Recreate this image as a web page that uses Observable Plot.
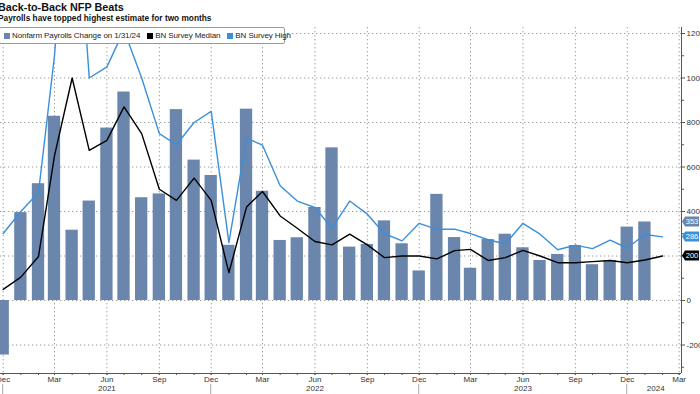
<!DOCTYPE html>
<html><head><meta charset="utf-8">
<script src="https://cdn.jsdelivr.net/npm/d3@7"></script>
<script src="https://cdn.jsdelivr.net/npm/@observablehq/plot@0.6"></script>
<style>
body{margin:0;background:#fff;font-family:"Liberation Sans",Arial,sans-serif;}
#wrap{position:relative;width:700px;height:394px;overflow:hidden;}
#title{position:absolute;left:-2px;top:1px;font-weight:bold;font-size:10.8px;color:#111;white-space:nowrap;}
#sub{position:absolute;left:-2px;top:13px;font-weight:bold;font-size:8.3px;color:#111;white-space:nowrap;}
#chart{position:absolute;left:0;top:0;}
#legend{position:absolute;left:-1px;top:27px;width:284px;height:15px;border:1px solid #999;border-radius:2px;background:#fff;
 font-family:"Liberation Sans",Arial,sans-serif;font-size:8px;letter-spacing:-0.1px;color:#222;display:flex;align-items:center;white-space:nowrap;}
#legend span.sw{display:inline-block;flex:0 0 6px;width:6px;height:6px;margin:0 2px 0 4px;}
#legend span.tx{flex:0 0 auto;}
</style></head><body>
<div id="wrap">
<div id="chart"></div>
<div id="title">Back-to-Back NFP Beats</div>
<div id="sub">Payrolls have topped highest estimate for two months</div>
<div id="legend"></div>
</div>
<script>
const months = ["2020-12",
 "2021-01","2021-02","2021-03","2021-04","2021-05","2021-06","2021-07","2021-08","2021-09","2021-10","2021-11","2021-12",
 "2022-01","2022-02","2022-03","2022-04","2022-05","2022-06","2022-07","2022-08","2022-09","2022-10","2022-11","2022-12",
 "2023-01","2023-02","2023-03","2023-04","2023-05","2023-06","2023-07","2023-08","2023-09","2023-10","2023-11","2023-12",
 "2024-01","2024-02"];
const nfp = [-245,
 395,525,828,316,447,775,937,462,479,858,631,562,
 248,860,491,270,282,418,686,240,252,358,255,133,
 477,283,145,274,298,237,180,207,247,161,180,330,
 353];
const median = [50,
 105,198,650,1000,675,720,870,750,500,450,550,450,
 125,420,490,380,325,265,250,298,250,193,200,200,
 187,224,230,180,193,225,200,170,170,175,180,170,
 182,200];
const high = [301,
 400,485,1100,2100,1000,1050,1215,1000,750,700,800,850,
 260,730,698,516,447,418,325,447,388,300,268,347,
 320,321,301,273,254,347,298,228,249,233,271,236,
 297,286];
const seriesNames = ["Nonfarm Payrolls Change on 1/31/24","BN Survey Median","BN Survey High"];
const colors = ["#6a86ad","#000000","#3a8fdd"];
const quarterTicks = ["2020-12","2021-03","2021-06","2021-09","2021-12","2022-03","2022-06","2022-09","2022-12","2023-03","2023-06","2023-09","2023-12","2024-03"];
const monthNames = ["Jan","Feb","Mar","Apr","May","Jun","Jul","Aug","Sep","Oct","Nov","Dec"];
const yearLabels = [["2021","2021-06-01"],["2022","2022-06-01"],["2023","2023-06-01"],["2024","2024-01-20"]];
const yTicks = [-200,0,200,400,600,800,1000,1200];
const yMinor = [-300,-100,100,300,500,700,900,1100];
const xDomain = ["2020-11-26T07:00Z","2024-03-05T05:00Z"];
const yDomain = [-328,1227];
const lastValues = [[353,0],[286,2],[200,1]];

const parse = s => new Date(s.length === 7 ? s + "-01T00:00Z" : (s.length === 10 ? s + "T00:00Z" : s));
const allMonths = [];
for (let y = 2020; y <= 2024; y++) for (let m = 0; m < 12; m++) {
  const d = new Date(Date.UTC(y, m, 1));
  if (d >= parse(xDomain[0]) && d <= parse(xDomain[1])) allMonths.push(d);
}
const halfW = 10.8 * 864e5;
const bars = nfp.map((v, i) => ({date: parse(months[i]), value: v}));
const lines = months.map((m, i) => ({date: parse(m), median: median[i], high: high[i]}));
const qDates = quarterTicks.map(parse);
const grid = {stroke: "#9a9a9a", strokeOpacity: 1, strokeWidth: 1, strokeDasharray: "1.3,2.7"};
const tagged = new Set(lastValues.map(d => d[0]));

const plot = Plot.plot({
  width: 700, height: 394,
  marginTop: 27, marginBottom: 21, marginLeft: 0, marginRight: 19,
  style: {fontFamily: "'Liberation Sans', Arial, sans-serif", fontSize: "8px", color: "#333", background: "transparent", overflow: "hidden"},
  x: {type: "utc", domain: xDomain.map(parse)},
  y: {domain: yDomain},
  marks: [
    Plot.gridX(qDates, grid),
    Plot.gridY(yTicks, grid),
    Plot.rectY(bars, {x1: d => new Date(+d.date - halfW), x2: d => new Date(+d.date + halfW), y: "value", fill: colors[0], clip: true}),
    Plot.line(lines, {x: "date", y: "high", stroke: colors[2], strokeWidth: 1.4, clip: true}),
    Plot.line(lines, {x: "date", y: "median", stroke: colors[1], strokeWidth: 1.4, clip: true}),
    Plot.ruleY([yDomain[0]], {stroke: "#555", strokeWidth: 1}),
    Plot.ruleX([parse(xDomain[1])], {stroke: "#555", strokeWidth: 1}),
    Plot.axisX(allMonths, {tickSize: 2, tickFormat: () => "", stroke: "#555"}),
    Plot.axisX(qDates, {tickSize: 2, tickPadding: 1, stroke: "#555", fill: "#333", tickFormat: d => monthNames[d.getUTCMonth()]}),
    Plot.axisX(yearLabels.map(d => parse(d[1])), {tickSize: 0, tickPadding: 12, fill: "#333", tickFormat: d => yearLabels.find(e => +parse(e[1]) === +d)[0]}),
    Plot.axisY(yTicks, {anchor: "right", tickSize: 3, tickPadding: 2, stroke: "#555", fill: "#333", tickFormat: d => tagged.has(d) ? "" : String(d)}),
    Plot.axisY(yMinor, {anchor: "right", tickSize: 2, tickFormat: () => "", stroke: "#555"})
  ]
});
document.getElementById("chart").appendChild(plot);

// value tags and year separators drawn with the plot's own scales
const xs = plot.scale("x"), ys = plot.scale("y");
const svg = d3.select(plot);
const xr = xs.apply(parse(xDomain[1]));
const g = svg.append("g");
lastValues.forEach(([v, ci]) => {
  const y = ys.apply(v);
  g.append("path").attr("d", `M${xr + 1},${y} L${xr + 4},${y - 5} H${xr + 18} V${y + 5} H${xr + 4} Z`).attr("fill", colors[ci]);
  g.append("text").attr("x", xr + 11).attr("y", y).attr("dy", "0.35em").attr("text-anchor", "middle")
    .attr("fill", "#fff").attr("font-size", "7.5px").attr("font-family", "'Liberation Sans', Arial, sans-serif").text(v);
});
const yb = ys.apply(yDomain[0]);
qDates.filter(d => d.getUTCMonth() === 11).forEach(d => {
  const x = xs.apply(d);
  g.append("line").attr("x1", x).attr("x2", x).attr("y1", yb + 11).attr("y2", 394).attr("stroke", "#aaa");
});

// legend
const leg = document.getElementById("legend");
seriesNames.forEach((n, i) => {
  const sw = document.createElement("span"); sw.className = "sw"; sw.style.background = colors[i];
  if (i > 0) sw.style.marginLeft = "7px";
  leg.appendChild(sw);
  const t = document.createElement("span"); t.className = "tx"; t.textContent = n; leg.appendChild(t);
});
</script>
</body></html>
